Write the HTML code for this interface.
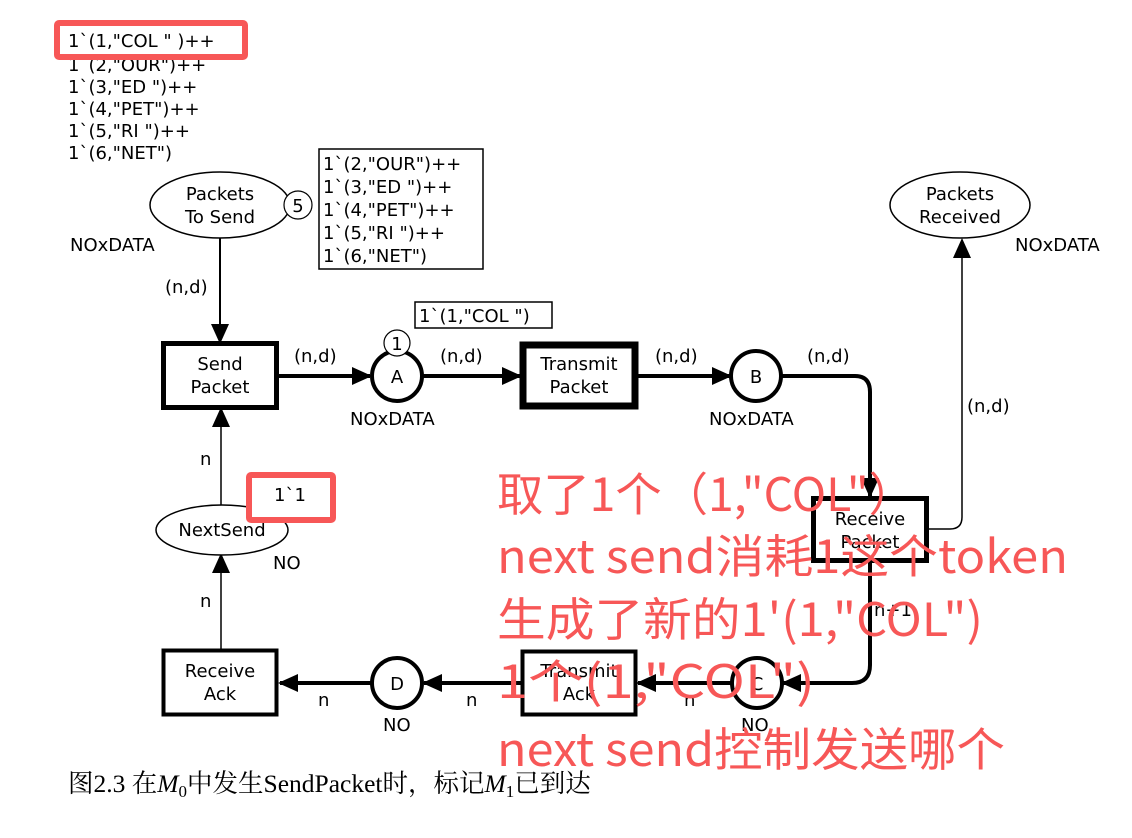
<!DOCTYPE html>
<html><head><meta charset="utf-8"><style>
html,body{margin:0;padding:0;background:#fff;}
svg{display:block;}
.t{font-family:"DejaVu Sans","Liberation Sans",sans-serif;font-size:18px;fill:#000;}
.r{font-family:"Noto Sans CJK SC","WenQuanYi Zen Hei",sans-serif;font-size:46px;fill:#f75757;}
</style></head><body>
<svg width="1132" height="838" viewBox="0 0 1132 838" xmlns="http://www.w3.org/2000/svg">
<defs>
<marker id="a2" markerWidth="20" markerHeight="20" refX="18" refY="10" orient="auto" markerUnits="userSpaceOnUse" viewBox="0 0 20 20"><path d="M0,1 L20,10 L0,19 z" fill="#000"/></marker>
</defs>

<g class="t">
<text x="68" y="71">1`(2,"OUR")++</text>
<text x="68" y="93">1`(3,"ED ")++</text>
<text x="68" y="115">1`(4,"PET")++</text>
<text x="68" y="137">1`(5,"RI ")++</text>
<text x="68" y="159">1`(6,"NET")</text>
</g>
<rect x="57" y="23" width="188" height="34" fill="#fff" stroke="#f75757" stroke-width="6" rx="2"/>
<text class="t" x="68" y="47">1`(1,"COL " )++</text>

<ellipse cx="220" cy="205" rx="70" ry="33" fill="#fff" stroke="#000" stroke-width="1.5"/>
<text class="t" x="220" y="200" text-anchor="middle">Packets</text>
<text class="t" x="220" y="223" text-anchor="middle">To Send</text>
<circle cx="298" cy="205" r="14" fill="#fff" stroke="#000" stroke-width="1.2"/>
<text class="t" x="298" y="212" text-anchor="middle">5</text>
<text class="t" x="70" y="251">NOxDATA</text>
<rect x="319" y="149" width="164" height="120" fill="#fff" stroke="#000" stroke-width="1.5"/>
<g class="t">
<text x="323" y="170">1`(2,"OUR")++</text>
<text x="323" y="193">1`(3,"ED ")++</text>
<text x="323" y="216">1`(4,"PET")++</text>
<text x="323" y="239">1`(5,"RI ")++</text>
<text x="323" y="262">1`(6,"NET")</text>
</g>

<line x1="220" y1="238" x2="220" y2="342" stroke="#000" stroke-width="2" marker-end="url(#a2)"/>
<text class="t" x="165" y="293">(n,d)</text>

<rect x="163.5" y="343.5" width="113" height="64" fill="#fff" stroke="#000" stroke-width="5"/>
<text class="t" x="220" y="370" text-anchor="middle">Send</text>
<text class="t" x="220" y="393" text-anchor="middle">Packet</text>

<line x1="279" y1="376" x2="370" y2="376" stroke="#000" stroke-width="4" marker-end="url(#a2)"/>
<text class="t" x="294" y="362">(n,d)</text>

<circle cx="397" cy="376" r="25" fill="#fff" stroke="#000" stroke-width="4"/>
<text class="t" x="397" y="383" text-anchor="middle">A</text>
<circle cx="397" cy="343" r="13" fill="#fff" stroke="#000" stroke-width="1.2"/>
<text class="t" x="397" y="350" text-anchor="middle">1</text>
<text class="t" x="350" y="425">NOxDATA</text>
<rect x="415" y="302" width="137" height="26" fill="#fff" stroke="#000" stroke-width="1.5"/>
<text class="t" x="419" y="322">1`(1,"COL ")</text>

<line x1="423" y1="376" x2="520" y2="376" stroke="#000" stroke-width="4" marker-end="url(#a2)"/>
<text class="t" x="440" y="362">(n,d)</text>

<rect x="523" y="345" width="112" height="61" fill="#fff" stroke="#000" stroke-width="7"/>
<text class="t" x="579" y="370" text-anchor="middle">Transmit</text>
<text class="t" x="579" y="393" text-anchor="middle">Packet</text>

<line x1="638" y1="376" x2="730" y2="376" stroke="#000" stroke-width="4" marker-end="url(#a2)"/>
<text class="t" x="655" y="362">(n,d)</text>

<circle cx="756" cy="376" r="25" fill="#fff" stroke="#000" stroke-width="4"/>
<text class="t" x="756" y="383" text-anchor="middle">B</text>
<text class="t" x="709" y="425">NOxDATA</text>
<text class="t" x="807" y="362">(n,d)</text>

<path d="M782,376 L855,376 Q870,376 870,392 L870,496" fill="none" stroke="#000" stroke-width="4" marker-end="url(#a2)"/>

<rect x="813.5" y="498.5" width="113" height="62" fill="#fff" stroke="#000" stroke-width="5"/>
<text class="t" x="870" y="525" text-anchor="middle">Receive</text>
<text class="t" x="870" y="548" text-anchor="middle">Packet</text>

<path d="M929,529 L950,529 Q962,529 962,517 L962,240" fill="none" stroke="#000" stroke-width="1.5" marker-end="url(#a2)"/>
<text class="t" x="967" y="412">(n,d)</text>

<ellipse cx="960" cy="205" rx="70" ry="33" fill="#fff" stroke="#000" stroke-width="1.5"/>
<text class="t" x="960" y="200" text-anchor="middle">Packets</text>
<text class="t" x="960" y="223" text-anchor="middle">Received</text>
<text class="t" x="1015" y="251">NOxDATA</text>

<path d="M870,562 L870,665 Q870,683 852,683 L783,683" fill="none" stroke="#000" stroke-width="4" marker-end="url(#a2)"/>
<text class="t" x="874" y="616">n+1</text>

<circle cx="757" cy="683" r="25" fill="#fff" stroke="#000" stroke-width="4"/>
<text class="t" x="757" y="690" text-anchor="middle">C</text>
<text class="t" x="741" y="731">NO</text>

<line x1="731" y1="683" x2="638" y2="683" stroke="#000" stroke-width="4" marker-end="url(#a2)"/>
<text class="t" x="684" y="706">n</text>

<rect x="522.5" y="651.5" width="113" height="63" fill="#fff" stroke="#000" stroke-width="4"/>
<text class="t" x="579" y="677" text-anchor="middle">Transmit</text>
<text class="t" x="579" y="700" text-anchor="middle">Ack</text>

<line x1="521" y1="683" x2="424" y2="683" stroke="#000" stroke-width="4" marker-end="url(#a2)"/>
<text class="t" x="466" y="706">n</text>

<circle cx="397" cy="683" r="25" fill="#fff" stroke="#000" stroke-width="4"/>
<text class="t" x="397" y="690" text-anchor="middle">D</text>
<text class="t" x="383" y="731">NO</text>

<line x1="371" y1="683" x2="280" y2="683" stroke="#000" stroke-width="4" marker-end="url(#a2)"/>
<text class="t" x="318" y="706">n</text>

<rect x="163.5" y="650.5" width="113" height="64" fill="#fff" stroke="#000" stroke-width="4"/>
<text class="t" x="220" y="677" text-anchor="middle">Receive</text>
<text class="t" x="220" y="700" text-anchor="middle">Ack</text>

<line x1="221" y1="650" x2="221" y2="555" stroke="#000" stroke-width="1.5" marker-end="url(#a2)"/>
<text class="t" x="200" y="607">n</text>

<ellipse cx="222" cy="530" rx="66" ry="25" fill="#fff" stroke="#000" stroke-width="1.5"/>
<text class="t" x="222" y="536" text-anchor="middle">NextSend</text>
<text class="t" x="273" y="569">NO</text>

<line x1="221" y1="505" x2="221" y2="409" stroke="#000" stroke-width="1.5" marker-end="url(#a2)"/>
<text class="t" x="200" y="465">n</text>

<rect x="249" y="475" width="84" height="45" fill="#fff" stroke="#f75757" stroke-width="6" rx="2"/>
<text class="t" x="274" y="501">1`1</text>

<g class="r">
<text x="497" y="511" textLength="418" lengthAdjust="spacingAndGlyphs">取了1个（1,"COL"）</text>
<text x="497" y="573" textLength="571" lengthAdjust="spacingAndGlyphs">next send消耗1这个token</text>
<text x="497" y="636" textLength="486" lengthAdjust="spacingAndGlyphs">生成了新的1'(1,"COL")</text>
<text x="497" y="698" textLength="318" lengthAdjust="spacingAndGlyphs">1个(1,"COL")</text>
<text x="497" y="766" textLength="508" lengthAdjust="spacingAndGlyphs">next send控制发送哪个</text>
</g>

<text x="68" y="792" style="font-family:'Liberation Serif','Noto Serif CJK SC',serif;font-size:25.5px;fill:#000">图2.3 在<tspan font-style="italic">M</tspan><tspan font-size="17" dy="5">0</tspan><tspan dy="-5">中发生SendPacket时，标记</tspan><tspan font-style="italic">M</tspan><tspan font-size="17" dy="5">1</tspan><tspan dy="-5">已到达</tspan></text>
</svg>
</body></html>
